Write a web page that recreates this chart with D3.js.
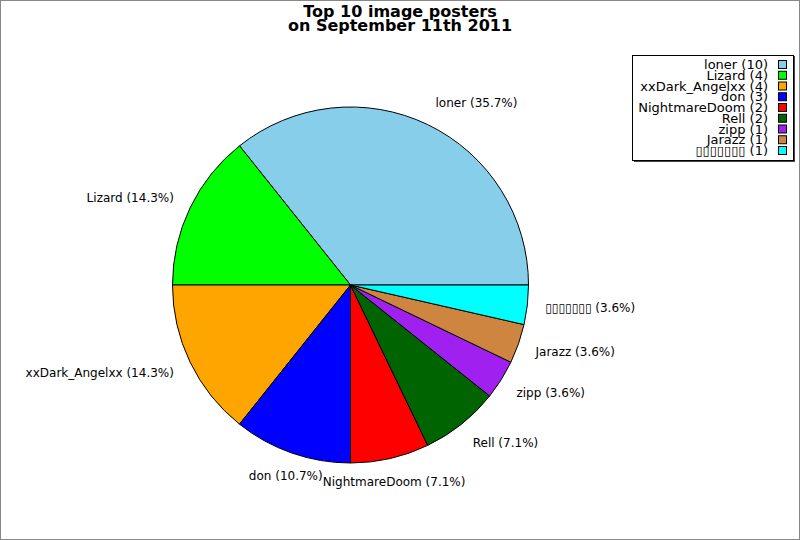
<!DOCTYPE html>
<html>
<head>
<meta charset="utf-8">
<script src="https://cdn.jsdelivr.net/npm/d3@7"></script>
<style>
  body { margin: 0; background: #fff; }
  svg { display: block; font-family: "DejaVu Sans", sans-serif; }
</style>
</head>
<body>
<script>
const width = 800;
const height = 540;

const names = ['loner', 'Lizard', 'xxDark_Angelxx', 'don', 'NightmareDoom', 'Rell', 'zipp', 'Jarazz', '▯▯▯▯▯▯▯'];
const counts = [10, 4, 4, 3, 2, 2, 1, 1, 1];
const colors = ['#87ceeb', '#00ff00', '#ffa500', '#0000ff', '#ff0000', '#006400', '#a020f0', '#cd853f', '#00ffff'];
const titleLines = ['Top 10 image posters', 'on September 11th 2011'];

const data = names.map((name, i) => ({name, value: counts[i], color: colors[i]}));
const total = d3.sum(counts);

const cx = 350.5, cy = 285, radius = 178, labelR = 196;

const svg = d3.select('body').append('svg')
  .attr('width', width).attr('height', height);

svg.append('rect')
  .attr('x', 0.5).attr('y', 0.5)
  .attr('width', width - 1).attr('height', height - 1)
  .attr('fill', '#fff').attr('stroke', '#888');

// title
svg.append('g').selectAll('text').data(titleLines).enter().append('text')
  .attr('x', 400)
  .attr('y', (d, i) => 16.5 + i * 14)
  .attr('text-anchor', 'middle')
  .attr('font-size', 16)
  .attr('font-weight', 'bold')
  .text(d => d);

// pie: counter-clockwise starting at 3 o'clock
const pie = d3.pie().sort(null).value(d => d.value)
  .startAngle(Math.PI / 2)
  .endAngle(Math.PI / 2 - 2 * Math.PI);

const arc = d3.arc().innerRadius(0).outerRadius(radius);
const arcs = pie(data);

const g = svg.append('g').attr('transform', `translate(${cx},${cy})`);

g.selectAll('path').data(arcs).enter().append('path')
  .attr('d', arc)
  .attr('fill', d => d.data.color)
  .attr('stroke', '#000')
  .attr('stroke-width', 1)
  .attr('stroke-linejoin', 'round');

const pct = d3.format('.1f');

g.selectAll('text.label').data(arcs).enter().append('text')
  .attr('class', 'label')
  .each(function(d) {
    const a = (d.startAngle + d.endAngle) / 2;
    const s = Math.sin(a), c = Math.cos(a);
    d3.select(this)
      .attr('x', labelR * s)
      .attr('y', -labelR * c - c * 6)
      .attr('dy', '0.35em')
      .attr('text-anchor', Math.abs(s) < 0.4 ? 'middle' : (s > 0 ? 'start' : 'end'));
  })
  .attr('font-size', 12)
  .attr('fill', '#000')
  .text(d => `${d.data.name} (${pct(d.data.value / total * 100)}%)`);

// legend
const legend = svg.append('g');
legend.append('rect')
  .attr('x', 634).attr('y', 56)
  .attr('width', 161).attr('height', 106)
  .attr('fill', '#444');
legend.append('rect')
  .attr('x', 632.5).attr('y', 55.5)
  .attr('width', 161).attr('height', 105)
  .attr('fill', '#fff').attr('stroke', '#000');

const items = legend.selectAll('g.item').data(data).enter().append('g')
  .attr('class', 'item')
  .attr('transform', (d, i) => `translate(0,${64.5 + i * 10.75})`);

items.append('text')
  .attr('x', 768)
  .attr('dy', '0.36em')
  .attr('text-anchor', 'end')
  .attr('font-size', 13)
  .text(d => `${d.name} (${d.value})`);

items.append('rect')
  .attr('x', 778.5).attr('y', -4)
  .attr('width', 8).attr('height', 8)
  .attr('fill', d => d.color)
  .attr('stroke', '#000');
</script>
</body>
</html>
